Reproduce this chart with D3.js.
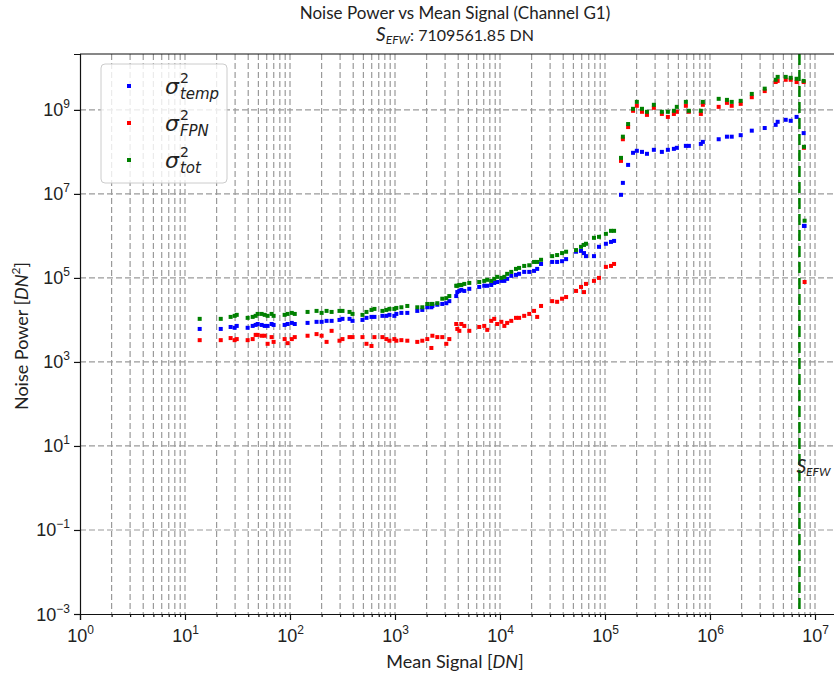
<!DOCTYPE html>
<html>
<head>
<meta charset="utf-8">
<script src="https://cdn.jsdelivr.net/npm/d3@7"></script>
<style>
  body { margin: 0; background: #fff; }
  svg { display: block; font-family: Lato, "Open Sans", sans-serif; }
</style>
</head>
<body>
<div id="chart"></div>
<script>
// Mean signal [DN] for each measurement
const signal = [
  13.8, 21.9, 27.2, 29.7, 31.1, 39.5, 44.1, 47.1, 49.2, 53.7, 57.4, 61.2, 66.8, 69.8, 88.9, 94.9, 104, 111,
  147, 179, 200, 223, 249, 296, 316, 369, 394, 490, 535, 597, 637, 759, 828, 885, 986, 1030, 1150,
  1310, 1630, 1820, 2030, 2220, 2270, 2530, 2820, 3080, 3290, 3830, 3920, 4100, 4280, 4570, 5100,
  6340, 7080, 7560, 8250, 8810, 9400, 10300, 11000, 11700,
  12800, 14200, 15200, 17000, 19000, 21100, 22600, 24600, 31400, 35000, 39000, 42600, 53000, 59100,
  63100, 65900, 78500, 87700, 102000, 114000, 122000,
  142000, 148000, 166000, 185000, 201000, 225000, 251000, 292000, 348000, 397000, 453000, 483000,
  589000, 629000, 818000, 855000, 1.21e6, 1.45e6, 1.61e6, 1.96e6, 2.50e6, 3.32e6, 4.22e6, 4.41e6,
  5.26e6, 5.87e6, 6.68e6, 7.80e6, 7.85e6, 7.96e6
];

// temporal noise variance
const sigmaTemp = [
  6.1e3, 6.1e3, 6.8e3, 6.5e3, 7.2e3, 6.5e3, 7.2e3, 7.6e3, 8.0e3, 7.6e3, 7.2e3, 7.2e3, 8.0e3, 7.6e3, 7.6e3, 8.0e3, 8.5e3, 8.0e3,
  8.5e3, 9.0e3, 9.0e3, 9.5e3, 9.5e3, 1.0e4, 1.06e4, 1.06e4, 9.5e3, 1.0e4, 1.12e4, 1.18e4, 1.18e4, 1.25e4, 1.25e4, 1.32e4, 1.25e4, 1.39e4, 1.47e4,
  1.47e4, 1.64e4, 1.73e4, 2.0e4, 2.0e4, 2.15e4, 2.3e4, 2.4e4, 2.5e4, 2.8e4, 3.7e4, 4.6e4, 4.9e4, 5.2e4, 4.9e4, 5.5e4,
  6.1e4, 6.5e4, 6.5e4, 6.8e4, 7.6e4, 8.0e4, 8.5e4, 8.5e4, 9.5e4,
  1.12e5, 1.18e5, 1.25e5, 1.39e5, 1.39e5, 1.47e5, 1.64e5, 2.15e5, 2.4e5, 2.4e5, 2.5e5, 2.8e5, 4.2e5, 4.4e5,
  3.9e5, 3.3e5, 3.3e5, 5.5e5, 6.5e5, 7.2e5, 7.6e5,
  9.5e6, 1.83e7, 4.9e7, 9.5e7, 1.06e8, 1.0e8, 9.0e7, 1.12e8, 1.0e8, 1.12e8, 1.18e8, 1.25e8,
  1.39e8, 1.39e8, 1.55e8, 1.73e8, 2.0e8, 2.3e8, 2.3e8, 2.5e8, 3.2e8, 3.7e8, 4.4e8, 5.2e8,
  5.8e8, 5.5e8, 6.8e8, 2.8e8, 1.73e6, 1.73e6
];

// fixed pattern noise variance
const sigmaFPN = [
  3.3e3, 3.3e3, 3.7e3, 3.3e3, 3.5e3, 3.3e3, 3.5e3, 4.4e3, 4.4e3, 4.2e3, 4.2e3, 2.7e3, 3.9e3, 3.0e3, 3.5e3, 2.8e3, 3.5e3, 3.9e3,
  4.2e3, 4.6e3, 4.2e3, 3.0e3, 5.5e3, 3.2e3, 3.5e3, 3.9e3, 3.9e3, 3.9e3, 2.7e3, 2.4e3, 3.9e3, 3.9e3, 3.5e3, 3.2e3, 3.5e3, 3.2e3, 3.3e3,
  3.2e3, 3.0e3, 3.2e3, 3.5e3, 2.15e3, 4.2e3, 3.9e3, 3.9e3, 2.7e3, 3.5e3, 8.0e3, 6.1e3, 5.5e3, 8.0e3, 7.2e3, 5.5e3,
  6.8e3, 7.2e3, 5.8e3, 9.5e3, 1.06e4, 8.0e3, 9.0e3, 7.2e3, 8.5e3,
  9.5e3, 1.12e4, 1.12e4, 1.25e4, 1.39e4, 1.64e4, 1.18e4, 2.15e4, 2.8e4, 2.7e4, 3.2e4, 3.5e4, 4.9e4, 6.1e4,
  4.6e4, 7.2e4, 8.5e4, 1.0e5, 1.83e5, 1.93e5, 2.15e5,
  6.1e7, 2.0e8, 3.9e8, 9.5e8, 1.25e9, 9.0e8, 7.6e8, 1.12e9, 8.0e8, 6.8e8, 8.0e8, 9.0e8,
  1.25e9, 9.0e8, 8.0e8, 1.32e9, 1.18e9, 1.47e9, 1.25e9, 1.39e9, 2.0e9, 2.8e9, 4.6e9, 4.9e9,
  5.2e9, 5.2e9, 4.6e9, 4.6e9, 1.25e8, 8.0e4
];

// total noise variance
const sigmaTot = [
  1.06e4, 1.06e4, 1.18e4, 1.25e4, 1.32e4, 1.12e4, 1.18e4, 1.25e4, 1.39e4, 1.39e4, 1.32e4, 1.25e4, 1.39e4, 1.25e4, 1.32e4, 1.39e4, 1.47e4, 1.39e4,
  1.55e4, 1.64e4, 1.47e4, 1.64e4, 1.55e4, 1.64e4, 1.64e4, 1.55e4, 1.39e4, 1.32e4, 1.55e4, 1.73e4, 1.83e4, 1.64e4, 1.73e4, 1.83e4, 1.83e4, 1.93e4, 2.0e4,
  2.15e4, 2.0e4, 2.0e4, 2.4e4, 2.4e4, 2.4e4, 2.5e4, 3.2e4, 3.3e4, 3.7e4, 6.5e4, 6.5e4, 6.8e4, 6.8e4, 7.2e4, 7.6e4,
  8.0e4, 8.5e4, 9.0e4, 8.5e4, 9.5e4, 1.06e5, 1.0e5, 1.06e5, 1.25e5,
  1.39e5, 1.64e5, 1.73e5, 1.93e5, 2.0e5, 2.4e5, 2.4e5, 2.7e5, 3.3e5, 3.5e5, 3.9e5, 4.2e5, 4.6e5, 5.5e5,
  6.1e5, 6.5e5, 9.0e5, 9.5e5, 1.12e6, 1.32e6, 1.32e6,
  7.2e7, 2.3e8, 4.6e8, 1.06e9, 1.55e9, 1.06e9, 9.0e8, 1.32e9, 9.0e8, 9.0e8, 9.5e8, 1.18e9,
  1.55e9, 9.5e8, 9.5e8, 1.55e9, 1.83e9, 1.73e9, 1.55e9, 1.64e9, 2.4e9, 3.2e9, 5.2e9, 6.1e9,
  6.1e9, 5.8e9, 5.5e9, 4.9e9, 1.32e8, 2.3e6
];

const sEFW = 7109561.85;
const xTicks = [1e0, 1e1, 1e2, 1e3, 1e4, 1e5, 1e6, 1e7];
const xTickExp = ['0', '1', '2', '3', '4', '5', '6', '7'];
const yTicks = [1e-3, 1e-1, 1e1, 1e3, 1e5, 1e7, 1e9];
const yTickExp = ['\u22123', '\u22121', '1', '3', '5', '7', '9'];

const width = 834, height = 676;
const margin = { top: 54, left: 80, bottom: 62 };
const plotBottom = height - margin.bottom;

const svg = d3.select('#chart').append('svg')
  .attr('width', width)
  .attr('height', height);

// log scales: ~105 px per decade on x, 42 px per decade on y
const x = d3.scaleLog()
  .domain([1, Math.pow(10, 7.3)])
  .range([margin.left, margin.left + 7.3 * 105]);

const y = d3.scaleLog()
  .domain([1e-3, Math.pow(10, 10.33)])
  .range([plotBottom, margin.top]);

// minor decade positions for the vertical grid
const xMinor = [];
for (let e = 0; e < 8; e++) {
  for (let k = 1; k <= 9; k++) xMinor.push(k * Math.pow(10, e));
}

const grid = svg.append('g');
grid.selectAll('.vgrid')
  .data(xMinor.filter(v => v > 1))
  .enter().append('line')
  .attr('x1', d => x(d)).attr('x2', d => x(d))
  .attr('y1', margin.top).attr('y2', plotBottom)
  .attr('stroke', '#9a9a9a')
  .attr('stroke-width', 1.2)
  .attr('stroke-dasharray', '6,3');

grid.selectAll('.hgrid')
  .data(yTicks.slice(1))
  .enter().append('line')
  .attr('x1', margin.left).attr('x2', width)
  .attr('y1', d => y(d)).attr('y2', d => y(d))
  .attr('stroke', '#9a9a9a')
  .attr('stroke-width', 1.2)
  .attr('stroke-dasharray', '6,3');

// data points
const series = [
  { name: 'temp', values: sigmaTemp, color: '#0000ff' },
  { name: 'FPN', values: sigmaFPN, color: '#ff0000' },
  { name: 'tot', values: sigmaTot, color: '#008000' }
];

series.forEach(s => {
  svg.append('g').selectAll('rect')
    .data(signal.map((sig, i) => [sig, s.values[i]]))
    .enter().append('rect')
    .attr('x', d => x(d[0]) - 2)
    .attr('y', d => y(d[1]) - 2)
    .attr('width', 4)
    .attr('height', 4)
    .attr('fill', s.color);
});

// saturation line
svg.append('line')
  .attr('x1', x(sEFW)).attr('x2', x(sEFW))
  .attr('y1', margin.top).attr('y2', plotBottom)
  .attr('stroke', '#008000')
  .attr('stroke-width', 2.5)
  .attr('stroke-dasharray', '11,5');

const sLabel = svg.append('text')
  .attr('x', x(sEFW) - 3)
  .attr('y', 473)
  .attr('font-size', 19)
  .attr('fill', '#222');
sLabel.append('tspan').attr('font-style', 'italic').text('S');
sLabel.append('tspan').attr('font-style', 'italic').attr('font-size', 12).attr('dy', 3).text('EFW');

// axes
const xAxis = svg.append('g')
  .attr('transform', `translate(0,${plotBottom})`)
  .call(d3.axisBottom(x).tickValues(xTicks).tickSize(6).tickFormat(() => ''));
svg.append('g')
  .attr('transform', `translate(0,${plotBottom})`)
  .call(d3.axisBottom(x).tickValues(xMinor.filter(v => !xTicks.includes(v))).tickSize(3).tickFormat(() => ''))
  .call(g => g.select('.domain').remove());

xAxis.selectAll('.tick').append('text')
  .attr('y', 28)
  .attr('fill', '#222')
  .attr('font-size', 18)
  .attr('text-anchor', 'middle')
  .each(function (d, i) {
    const t = d3.select(this);
    t.append('tspan').text('10');
    t.append('tspan').attr('font-size', 12).attr('dy', -8).text(xTickExp[i]);
  });

const yAxis = svg.append('g')
  .attr('transform', `translate(${margin.left},0)`)
  .call(d3.axisLeft(y).tickValues(yTicks).tickSize(6).tickFormat(() => ''));

yAxis.selectAll('.tick').append('text')
  .attr('x', -10)
  .attr('dy', 6)
  .attr('fill', '#222')
  .attr('font-size', 18)
  .attr('text-anchor', 'end')
  .each(function (d, i) {
    const t = d3.select(this);
    t.append('tspan').text('10');
    t.append('tspan').attr('font-size', 12).attr('dy', -8).text(yTickExp[i]);
  });

svg.selectAll('.domain, .tick line').attr('stroke', '#111').attr('stroke-width', 1.2);

// top spine
svg.append('line')
  .attr('x1', margin.left).attr('x2', width)
  .attr('y1', margin.top).attr('y2', margin.top)
  .attr('stroke', '#111').attr('stroke-width', 1.2);

// titles
svg.append('text')
  .attr('x', 455).attr('y', 19)
  .attr('text-anchor', 'middle')
  .attr('font-size', 17)
  .attr('fill', '#222')
  .text('Noise Power vs Mean Signal (Channel G1)');

const sub = svg.append('text')
  .attr('x', 455).attr('y', 41)
  .attr('text-anchor', 'middle')
  .attr('font-size', 16)
  .attr('fill', '#222');
sub.append('tspan').attr('font-style', 'italic').attr('font-size', 19).text('S');
sub.append('tspan').attr('font-style', 'italic').attr('font-size', 12).attr('dy', 3).text('EFW');
sub.append('tspan').attr('dy', -3).text(': 7109561.85 DN');

const xLabel = svg.append('text')
  .attr('x', 455).attr('y', 668)
  .attr('text-anchor', 'middle')
  .attr('font-size', 18)
  .attr('fill', '#222');
xLabel.append('tspan').text('Mean Signal [');
xLabel.append('tspan').attr('font-style', 'italic').text('DN');
xLabel.append('tspan').text(']');

const yLabel = svg.append('text')
  .attr('transform', 'translate(28,336) rotate(-90)')
  .attr('text-anchor', 'middle')
  .attr('font-size', 18)
  .attr('fill', '#222');
yLabel.append('tspan').text('Noise Power [');
yLabel.append('tspan').attr('font-style', 'italic').text('DN');
yLabel.append('tspan').attr('font-size', 12).attr('dy', -8).text('2');
yLabel.append('tspan').attr('dy', 8).text(']');

// legend
const legend = svg.append('g').attr('transform', 'translate(101,64)');
legend.append('rect')
  .attr('width', 126).attr('height', 119)
  .attr('rx', 4)
  .attr('fill', 'rgba(255,255,255,0.8)')
  .attr('stroke', '#cccccc');

series.forEach((s, i) => {
  const row = legend.append('g').attr('transform', `translate(0,${22 + i * 37})`);
  row.append('rect')
    .attr('x', 26).attr('y', -2)
    .attr('width', 4).attr('height', 4)
    .attr('fill', s.color);
  const t = row.append('text')
    .attr('x', 64).attr('y', 8)
    .attr('font-family', '"DejaVu Sans", sans-serif')
    .attr('font-style', 'italic')
    .attr('font-size', 22)
    .attr('fill', '#222');
  t.append('tspan').text('\u03c3');
  t.append('tspan').attr('font-size', 14).attr('font-style', 'normal').attr('dx', 1).attr('dy', -11).text('2');
  t.append('tspan').attr('font-size', 15).attr('dx', -9).attr('dy', 16).text(s.name);
});
</script>
</body>
</html>
